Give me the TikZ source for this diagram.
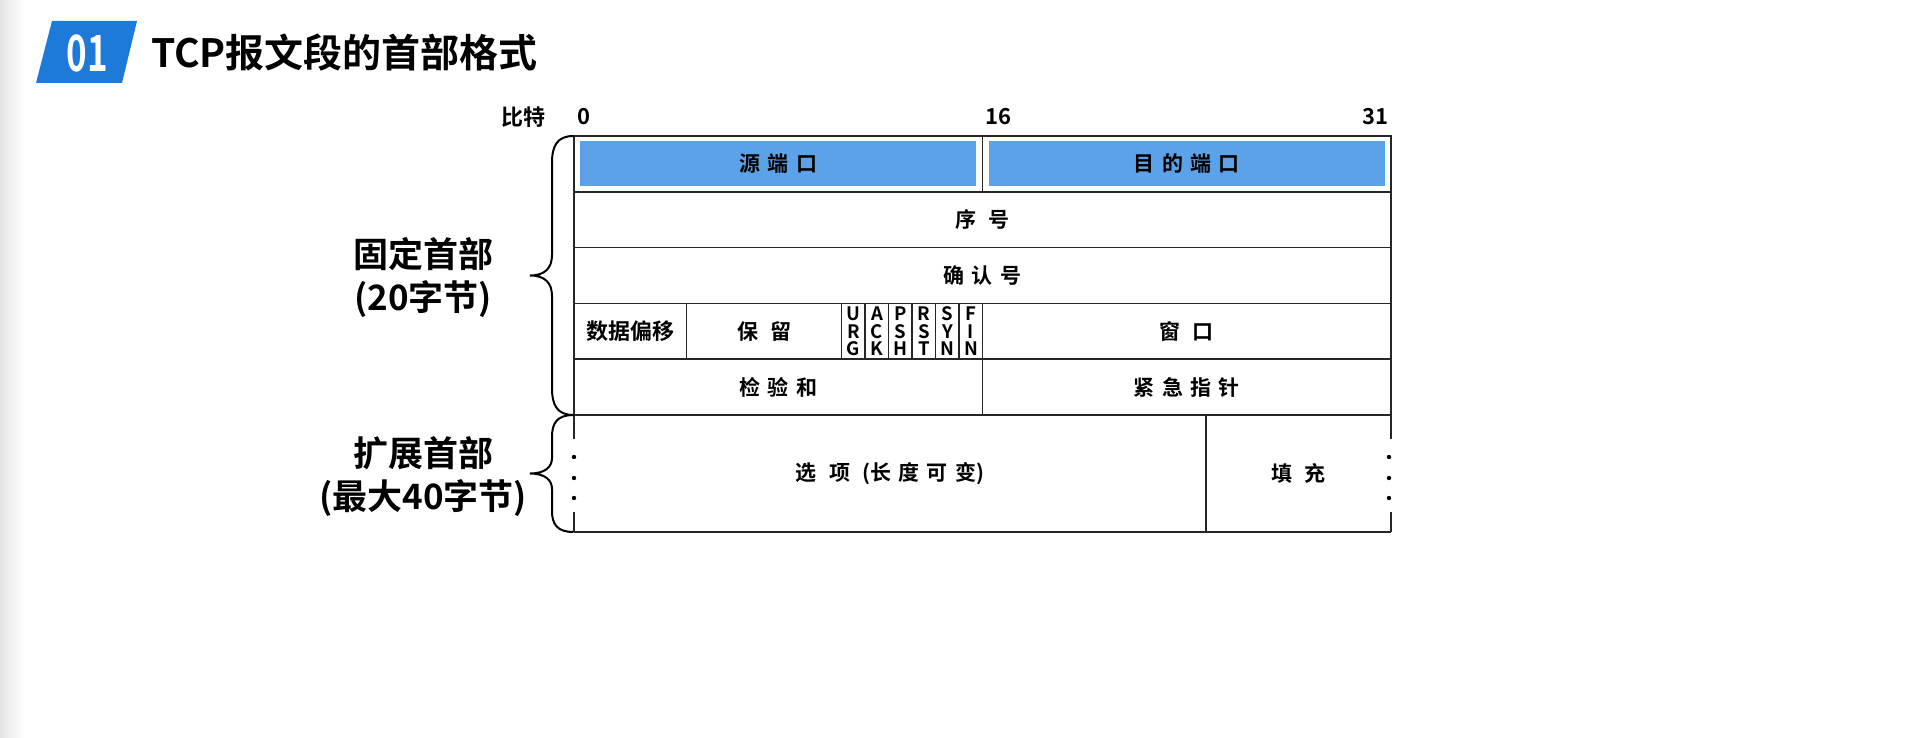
\documentclass[tikz,border=0pt]{standalone}
\usepackage{fontspec}
\setmainfont{Noto Sans CJK SC Bold}
\newfontfamily\spacedfont[LetterSpace=35]{Noto Sans CJK SC Bold}
\newfontfamily\narrowfont[FakeStretch=0.7]{Noto Sans CJK SC Bold}
\usepackage{tikz}
\definecolor{badgeblue}{RGB}{30,122,217}
\definecolor{portblue}{RGB}{92,162,232}
\tikzset{
  tableline/.style={draw=black!85,line width=1.5pt},
  cell/.style={tableline,inner sep=0pt,outer sep=0pt,minimum height=55.8pt,font=\spacedfont\fontsize{21}{21}\selectfont},
  optcell/.style={inner sep=0pt,outer sep=0pt,minimum height=117pt,font=\spacedfont\fontsize{21}{21}\selectfont},
  portfill/.style={fill=portblue,inner sep=0pt,minimum width=396pt,minimum height=45pt,font=\spacedfont\fontsize{21}{21}\selectfont},
  flag/.style={tableline,inner sep=0pt,outer sep=0pt,minimum width=23.5pt,minimum height=55.8pt,align=center,font=\fontsize{18.5}{17.5}\selectfont},
  bitnum/.style={inner sep=0pt,font=\fontsize{22}{22}\selectfont},
  sidelbl/.style={align=center,inner sep=0pt,font=\fontsize{35}{43}\selectfont},
  bracepath/.style={line width=2pt,black}
}
\begin{document}
\begin{tikzpicture}[x=1pt,y=-1pt]
\useasboundingbox[fill=white] (0,0) rectangle (1909,738);
\shade[left color=black!10,right color=white] (0,0) rectangle (25,738);

\fill[badgeblue] (52,21) -- (137,21) -- (122,83) -- (36,83) -- cycle;
\node (badge)[white,font=\narrowfont\fontsize{50}{50}\selectfont] at (87,53) {01};
\node (title)[anchor=west,inner sep=0pt,font=\fontsize{39}{39}\selectfont] at (151,53) {TCP报文段的首部格式};

\node (bits)[bitnum] at (523,117) {比特};
\node (b0)[bitnum,anchor=west] at (577,117) {0};
\node (b16)[bitnum,anchor=west] at (985,117) {16};
\node (b31)[bitnum,anchor=east] at (1389,117) {31};

\node (src)[cell,minimum width=408.5pt] at (778.25,163.9) {};
\node (srcfill)[portfill] at (src) {源端口};
\node (dst)[cell,minimum width=408.5pt] at (1186.75,163.9) {};
\node (dstfill)[portfill] at (dst) {目的端口};
\node (seq)[cell,minimum width=817pt] at (982.5,219.7) {序 号};
\node (ack)[cell,minimum width=817pt] at (982.5,275.5) {确认号};
\node (offset)[cell,minimum width=112.7pt,font=\fontsize{22}{22}\selectfont] at (630.35,331.3) {数据偏移};
\node (resv)[cell,minimum width=155pt] at (764.2,331.3) {保 留};
\foreach \a/\b/\c [count=\i from 0] in {U/R/G,A/C/K,P/S/H,R/S/T,S/Y/N,F/I/N}
  \node (flag\i)[flag] at ({853.45+23.5*\i},331.3) {\a\\\b\\\c};
\node (win)[cell,minimum width=408.5pt] at (1186.75,331.3) {窗 口};
\node (csum)[cell,minimum width=408.5pt] at (778.25,387.1) {检验和};
\node (urg)[cell,minimum width=408.5pt] at (1186.75,387.1) {紧急指针};

\node (opt)[optcell,minimum width=632pt] at (890,473.5) {选 项 {\rmfamily(}长度可变{\rmfamily)}};
\node (pad)[optcell,minimum width=185pt] at (1298.5,473.5) {填 充};
\draw[tableline] (opt.north west) -- (pad.north east) (opt.south west) -- (pad.south east) (opt.north east) -- (opt.south east);
\draw[tableline] (opt.north west) -- ++(0,24) (opt.south west) -- ++(0,-20) (pad.north east) -- ++(0,24) (pad.south east) -- ++(0,-20);
\foreach \y in {457,478,498} {
  \fill (574,\y) circle (2.2pt);
  \fill (1389,\y) circle (2.2pt);
}

\draw[bracepath] (573.5,136) .. controls (557,136) and (552,146) .. (552,163) -- (552,255) .. controls (552,268) and (545,275.5) .. (530,275.5) .. controls (545,275.5) and (552,283) .. (552,296) -- (552,388) .. controls (552,405) and (557,415) .. (573.5,415);
\draw[bracepath] (573.5,415) .. controls (557,415) and (552,423) .. (552,437) -- (552,458) .. controls (552,467) and (545,473.5) .. (530,473.5) .. controls (545,473.5) and (552,480) .. (552,489) -- (552,511) .. controls (552,524) and (557,532) .. (573.5,532);

\node (fixedlbl)[sidelbl] at (423,277) {固定首部\\(20字节)};
\node (extlbl)[sidelbl] at (423,477) {扩展首部\\(最大40字节)};
\end{tikzpicture}
\end{document}
